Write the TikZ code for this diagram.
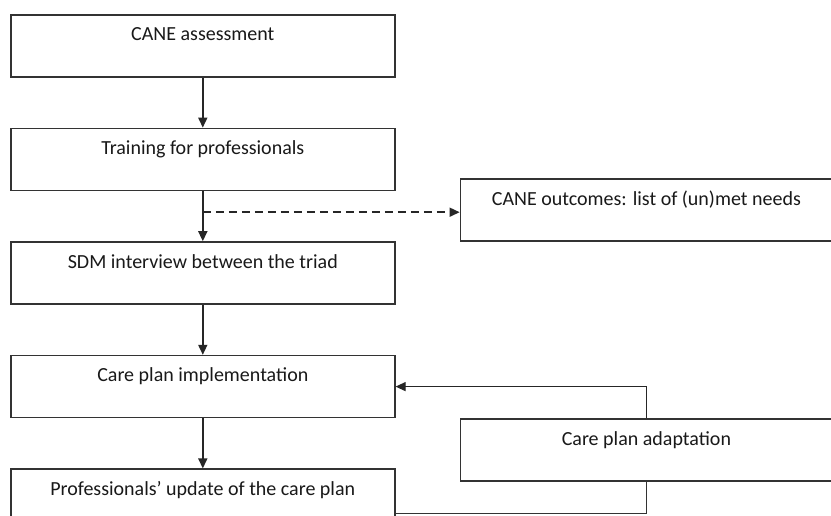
\documentclass[tikz,border=0pt]{standalone}
\usepackage{fontspec}
\setmainfont{Carlito}
\usepackage{tikz}
\usetikzlibrary{arrows.meta, positioning, calc}
\tikzstyle{block} = [rectangle, draw=black!80, line width=0.8pt, minimum width=192pt, minimum height=31pt, inner sep=0pt, text height=13pt, text depth=18pt, text centered, text=black!90, font=\fontsize{10}{12}\selectfont]
\tikzstyle{sideblock} = [block, minimum width=186pt]
\tikzstyle{arrow} = [line width=0.8pt, draw=black!85, -{Triangle[length=5pt, width=4.5pt]}]
\tikzstyle{link} = [line width=0.55pt, draw=black!80]

\begin{document}
\begin{tikzpicture}[node distance=25pt and 32pt]
    \fill[white] (0,0) rectangle (415.5pt,-257.5pt);
    \useasboundingbox (0,0) rectangle (415.5pt,-257.5pt);

    \node[block, anchor=north west] (assess) at (5pt,-7pt) {CANE assessment};
    \node[block, below=of assess] (train) {Training for professionals};
    \node[block, below=of train] (sdm) {SDM interview between the triad};
    \node[block, below=of sdm] (impl) {Care plan implementation};
    \node[block, below=of impl] (update) {Professionals' update of the care plan};

    \node[sideblock, below right=-6.5pt and 32pt of train] (outcomes) {CANE outcomes: list of (un)met needs};
    \node[sideblock, below right=0pt and 32pt of impl] (adapt) {Care plan adaptation};

    \coordinate (split) at ($(train.south)!0.42!(sdm.north)$);
    \coordinate (back) at ($(update.north east)+(0,-22.5pt)$);

    \draw[arrow] (assess) -- (train);
    \draw[arrow] (train) -- (sdm);
    \draw[arrow, dash pattern=on 4pt off 2.5pt] (split) -- (split -| outcomes.west);
    \draw[arrow] (sdm) -- (impl);
    \draw[arrow] (impl) -- (update);
    \draw[arrow, line width=0.55pt] (adapt.north) |- (impl.east);
    \draw[link] (adapt.south) |- (back);
\end{tikzpicture}
\end{document}
